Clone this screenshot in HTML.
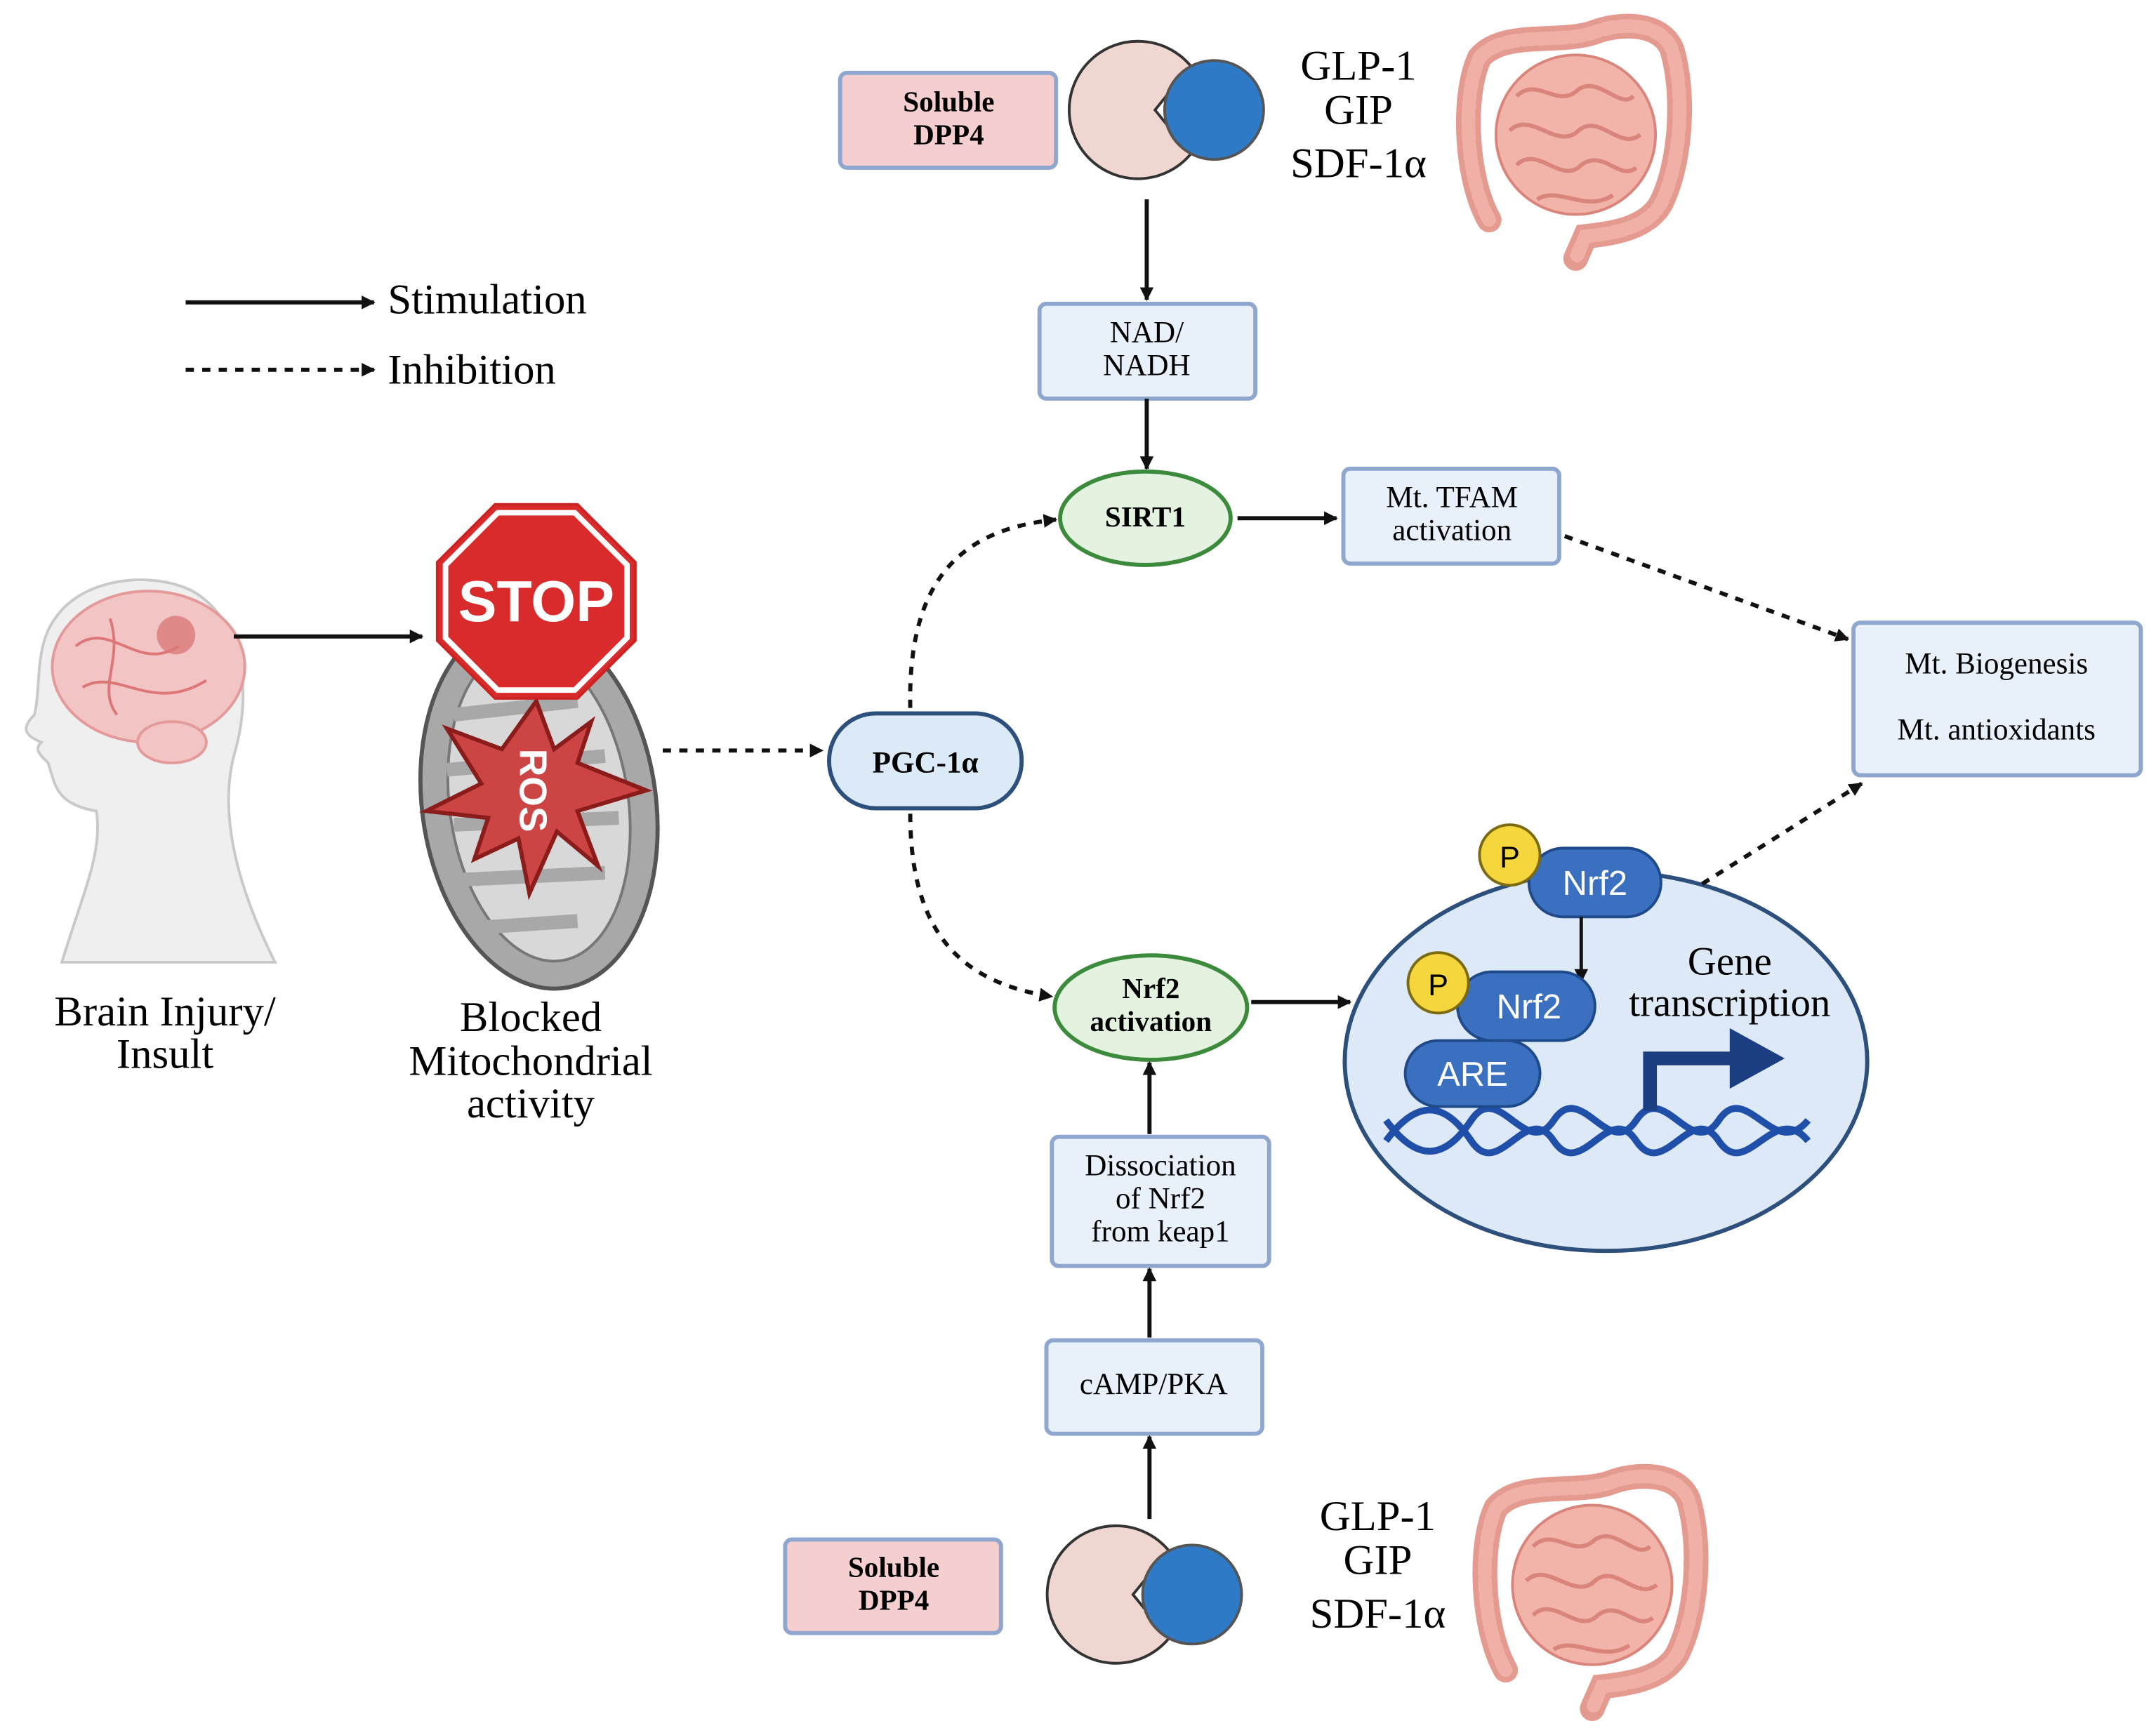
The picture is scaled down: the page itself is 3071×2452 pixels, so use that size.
<!DOCTYPE html>
<html><head><meta charset="utf-8"><style>html,body{margin:0;padding:0;background:#fff}svg{display:block}</style></head>
<body>
<svg width="3071" height="2452" viewBox="0 0 1568 1252" xmlns="http://www.w3.org/2000/svg" font-family="'Liberation Serif', serif">
<defs>
<marker id="ah" markerWidth="10" markerHeight="10" refX="9" refY="5" orient="auto" markerUnits="userSpaceOnUse"><path d="M0,0 L10,5 L0,10 Z" fill="#111"/></marker>
<g id="pac">
<path d="M12,0 L38,-32 A50,50 0 1 0 38,32 Z" fill="#f0d6d0" stroke="#333" stroke-width="2"/>
<circle cx="55" cy="0" r="36" fill="#2f7ac6" stroke="#555" stroke-width="2"/>
</g>
<g id="gut">
<ellipse cx="88" cy="88" rx="58" ry="58" fill="#f2b3a8" stroke="#d9857b" stroke-width="2"/>
<path d="M45,60 C60,45 75,70 90,55 C105,45 120,70 130,60 M40,85 C55,70 75,100 90,85 C105,72 120,100 135,88 M45,110 C60,95 78,125 92,110 C108,98 120,122 132,112 M60,135 C75,125 95,145 115,132" fill="none" stroke="#d9857b" stroke-width="3"/>
<path d="M25,150 C8,120 5,60 18,32 C35,12 75,22 100,14 C120,6 150,6 158,26 C168,60 164,110 150,138 C140,156 115,160 95,162 L88,178" fill="none" stroke="#e59a90" stroke-width="18" stroke-linecap="round"/>
<path d="M25,150 C8,120 5,60 18,32 C35,12 75,22 100,14 C120,6 150,6 158,26 C168,60 164,110 150,138 C140,156 115,160 95,162 L88,178" fill="none" stroke="#f0b0a6" stroke-width="10" stroke-linecap="round" stroke-dasharray="8,4"/>
</g>
</defs>

<!-- top group -->
<rect x="611" y="53" width="157" height="69" rx="5" fill="#f5cfcf" stroke="#8fa6cf" stroke-width="3"/>
<text x="690" y="81" font-size="21" font-weight="bold" text-anchor="middle">Soluble</text>
<text x="690" y="105" font-size="21" font-weight="bold" text-anchor="middle">DPP4</text>
<use href="#pac" x="828" y="80"/>
<text x="988" y="58" font-size="31" text-anchor="middle">GLP-1</text>
<text x="988" y="90" font-size="31" text-anchor="middle">GIP</text>
<text x="988" y="129" font-size="31" text-anchor="middle">SDF-1α</text>
<use href="#gut" x="1058" y="10"/>
<line x1="834" y1="145" x2="834" y2="218" stroke="#111" stroke-width="3" marker-end="url(#ah)"/>
<rect x="756" y="221" width="157" height="69" rx="5" fill="#e8f0fa" stroke="#8fa6cf" stroke-width="3"/>
<text x="834" y="249" font-size="22" text-anchor="middle">NAD/</text>
<text x="834" y="273" font-size="22" text-anchor="middle">NADH</text>
<line x1="834" y1="290" x2="834" y2="341" stroke="#111" stroke-width="3" marker-end="url(#ah)"/>
<ellipse cx="833" cy="377" rx="62" ry="34" fill="#e3f3e0" stroke="#3c8a3c" stroke-width="3"/>
<text x="833" y="383" font-size="21" font-weight="bold" text-anchor="middle">SIRT1</text>
<line x1="900" y1="377" x2="972" y2="377" stroke="#111" stroke-width="3" marker-end="url(#ah)"/>
<rect x="977" y="341" width="157" height="69" rx="5" fill="#e8f0fa" stroke="#8fa6cf" stroke-width="3"/>
<text x="1056" y="369" font-size="22" text-anchor="middle">Mt. TFAM</text>
<text x="1056" y="393" font-size="22" text-anchor="middle">activation</text>
<line x1="1138" y1="390" x2="1344" y2="465" stroke="#111" stroke-width="3" stroke-dasharray="6,6" marker-end="url(#ah)"/>
<rect x="1348" y="453" width="209" height="111" rx="5" fill="#e8f0fa" stroke="#8fa6cf" stroke-width="3"/>
<text x="1452" y="490" font-size="22" text-anchor="middle">Mt. Biogenesis</text>
<text x="1452" y="538" font-size="22" text-anchor="middle">Mt. antioxidants</text>

<!-- legend -->
<line x1="135" y1="220" x2="272" y2="220" stroke="#111" stroke-width="3" marker-end="url(#ah)"/>
<text x="282" y="228" font-size="31">Stimulation</text>
<line x1="135" y1="269" x2="272" y2="269" stroke="#111" stroke-width="3" stroke-dasharray="6,6" marker-end="url(#ah)"/>
<text x="282" y="279" font-size="31">Inhibition</text>

<!-- head -->
<path d="M45,700 C60,650 75,620 70,590 C40,585 40,570 35,555 C28,548 25,545 30,540 C18,535 15,530 25,520 C30,500 25,470 40,450 C60,420 110,415 140,430 C175,450 185,500 170,550 C160,590 170,640 200,700 Z" fill="#efefef" stroke="#c9c9c9" stroke-width="2"/>
<ellipse cx="108" cy="485" rx="70" ry="55" fill="#f2c4c4" stroke="#e59a9a" stroke-width="2"/>
<ellipse cx="125" cy="540" rx="25" ry="15" fill="#f2c4c4" stroke="#e59a9a" stroke-width="2"/>
<circle cx="128" cy="462" r="14" fill="#d97070" opacity="0.7"/>
<path d="M55,470 C80,450 100,490 130,470 M60,500 C85,485 110,520 150,495 M80,450 C90,480 70,500 85,520" fill="none" stroke="#d77" stroke-width="2"/>
<line x1="170" y1="463" x2="307" y2="463" stroke="#111" stroke-width="3" marker-end="url(#ah)"/>
<text x="120" y="746" font-size="31" text-anchor="middle">Brain Injury/</text>
<text x="120" y="777" font-size="31" text-anchor="middle">Insult</text>

<!-- mitochondrion -->
<ellipse cx="392" cy="585" rx="85" ry="135" transform="rotate(-8 392 585)" fill="#a8a8a8" stroke="#555" stroke-width="3"/>
<ellipse cx="392" cy="585" rx="65" ry="115" transform="rotate(-8 392 585)" fill="#d8d8d8" stroke="#777" stroke-width="2"/>
<path d="M330,520 L420,510 M325,560 L440,550 M330,600 L450,595 M335,640 L440,635 M345,675 L420,670" stroke="#a8a8a8" stroke-width="10"/>
<polygon points="390,510 403,545 430,525 420,555 470,575 420,590 435,630 405,605 385,650 377,610 345,625 355,595 310,590 350,570 325,530 365,545" fill="#cc4444" stroke="#8a1c1c" stroke-width="3"/>
<text x="0" y="0" font-family="'Liberation Sans', sans-serif" font-size="28" font-weight="bold" fill="#fff" text-anchor="middle" transform="translate(378 575) rotate(90)">ROS</text>
<polygon points="360,367 420,367 462,409 462,466 420,508 360,508 318,466 318,409" fill="#d92b2b" stroke="#c22" stroke-width="2"/>
<polygon points="362,373 418,373 456,411 456,464 418,502 362,502 324,464 324,411" fill="none" stroke="#fff" stroke-width="4"/>
<text x="390" y="452" font-family="'Liberation Sans', sans-serif" font-size="42" font-weight="bold" fill="#fff" text-anchor="middle">STOP</text>
<text x="386" y="750" font-size="31" text-anchor="middle">Blocked</text>
<text x="386" y="782" font-size="31" text-anchor="middle">Mitochondrial</text>
<text x="386" y="813" font-size="31" text-anchor="middle">activity</text>

<line x1="482" y1="546" x2="598" y2="546" stroke="#111" stroke-width="3" stroke-dasharray="6,6" marker-end="url(#ah)"/>
<rect x="603" y="519" width="140" height="69" rx="34" fill="#dceaf7" stroke="#2c4f7c" stroke-width="3"/>
<text x="673" y="562" font-size="22" font-weight="bold" text-anchor="middle">PGC-1α</text>
<path d="M662,515 C660,420 700,385 768,378" fill="none" stroke="#111" stroke-width="3" stroke-dasharray="6,6" marker-end="url(#ah)"/>
<path d="M662,592 C662,680 700,715 765,725" fill="none" stroke="#111" stroke-width="3" stroke-dasharray="6,6" marker-end="url(#ah)"/>

<ellipse cx="837" cy="733" rx="70" ry="38" fill="#e3f3e0" stroke="#3c8a3c" stroke-width="3"/>
<text x="837" y="726" font-size="21" font-weight="bold" text-anchor="middle">Nrf2</text>
<text x="837" y="750" font-size="21" font-weight="bold" text-anchor="middle">activation</text>
<line x1="910" y1="729" x2="982" y2="729" stroke="#111" stroke-width="3" marker-end="url(#ah)"/>

<!-- nucleus -->
<ellipse cx="1168" cy="772" rx="190" ry="138" fill="#dde9f7" stroke="#2c4f7c" stroke-width="3"/>
<path d="M1008,830 C1030,800 1050,800 1070,830 C1090,860 1110,800 1130,830 C1150,860 1170,800 1190,830 C1210,860 1230,800 1250,830 C1270,860 1290,800 1315,830" fill="none" stroke="#1f4fa8" stroke-width="5"/>
<path d="M1008,815 C1030,845 1050,845 1070,815 C1090,785 1110,845 1130,815 C1150,785 1170,845 1190,815 C1210,785 1230,845 1250,815 C1270,785 1290,845 1315,815" fill="none" stroke="#1f4fa8" stroke-width="5"/>
<path d="M1200,808 L1200,770 L1262,770" fill="none" stroke="#1b3e80" stroke-width="10"/>
<polygon points="1258,748 1298,770 1258,792" fill="#1b3e80"/>
<text x="1258" y="709" font-size="29" text-anchor="middle">Gene</text>
<text x="1258" y="739" font-size="29" text-anchor="middle">transcription</text>
<rect x="1112" y="617" width="96" height="50" rx="25" fill="#3b6fc0" stroke="#1f4a8a" stroke-width="2"/>
<text x="1160" y="651" font-family="'Liberation Sans', sans-serif" font-size="25" fill="#fff" text-anchor="middle">Nrf2</text>
<circle cx="1098" cy="622" r="22" fill="#f5d63d" stroke="#7a6a10" stroke-width="2"/>
<text x="1098" y="631" font-family="'Liberation Sans', sans-serif" font-size="22" text-anchor="middle">P</text>
<line x1="1150" y1="667" x2="1150" y2="714" stroke="#111" stroke-width="2.5" marker-end="url(#ah)"/>
<rect x="1022" y="757" width="98" height="48" rx="24" fill="#3b6fc0" stroke="#1f4a8a" stroke-width="2"/>
<text x="1071" y="790" font-family="'Liberation Sans', sans-serif" font-size="25" fill="#fff" text-anchor="middle">ARE</text>
<rect x="1060" y="707" width="100" height="50" rx="25" fill="#3b6fc0" stroke="#1f4a8a" stroke-width="2"/>
<text x="1112" y="741" font-family="'Liberation Sans', sans-serif" font-size="25" fill="#fff" text-anchor="middle">Nrf2</text>
<circle cx="1046" cy="715" r="22" fill="#f5d63d" stroke="#7a6a10" stroke-width="2"/>
<text x="1046" y="724" font-family="'Liberation Sans', sans-serif" font-size="22" text-anchor="middle">P</text>
<line x1="1238" y1="643" x2="1354" y2="570" stroke="#111" stroke-width="3" stroke-dasharray="6,6" marker-end="url(#ah)"/>

<!-- bottom chain -->
<line x1="836" y1="825" x2="836" y2="773" stroke="#111" stroke-width="3" marker-end="url(#ah)"/>
<rect x="765" y="827" width="158" height="94" rx="5" fill="#e8f0fa" stroke="#8fa6cf" stroke-width="3"/>
<text x="844" y="855" font-size="22" text-anchor="middle">Dissociation</text>
<text x="844" y="879" font-size="22" text-anchor="middle">of Nrf2</text>
<text x="844" y="903" font-size="22" text-anchor="middle">from keap1</text>
<line x1="836" y1="973" x2="836" y2="923" stroke="#111" stroke-width="3" marker-end="url(#ah)"/>
<rect x="761" y="975" width="157" height="68" rx="5" fill="#e8f0fa" stroke="#8fa6cf" stroke-width="3"/>
<text x="839" y="1014" font-size="22" text-anchor="middle">cAMP/PKA</text>
<line x1="836" y1="1105" x2="836" y2="1045" stroke="#111" stroke-width="3" marker-end="url(#ah)"/>
<rect x="571" y="1120" width="157" height="68" rx="5" fill="#f5cfcf" stroke="#8fa6cf" stroke-width="3"/>
<text x="650" y="1147" font-size="21" font-weight="bold" text-anchor="middle">Soluble</text>
<text x="650" y="1171" font-size="21" font-weight="bold" text-anchor="middle">DPP4</text>
<use href="#pac" x="812" y="1160"/>
<text x="1002" y="1113" font-size="31" text-anchor="middle">GLP-1</text>
<text x="1002" y="1145" font-size="31" text-anchor="middle">GIP</text>
<text x="1002" y="1184" font-size="31" text-anchor="middle">SDF-1α</text>
<use href="#gut" x="1070" y="1065"/>
</svg>
</body></html>
